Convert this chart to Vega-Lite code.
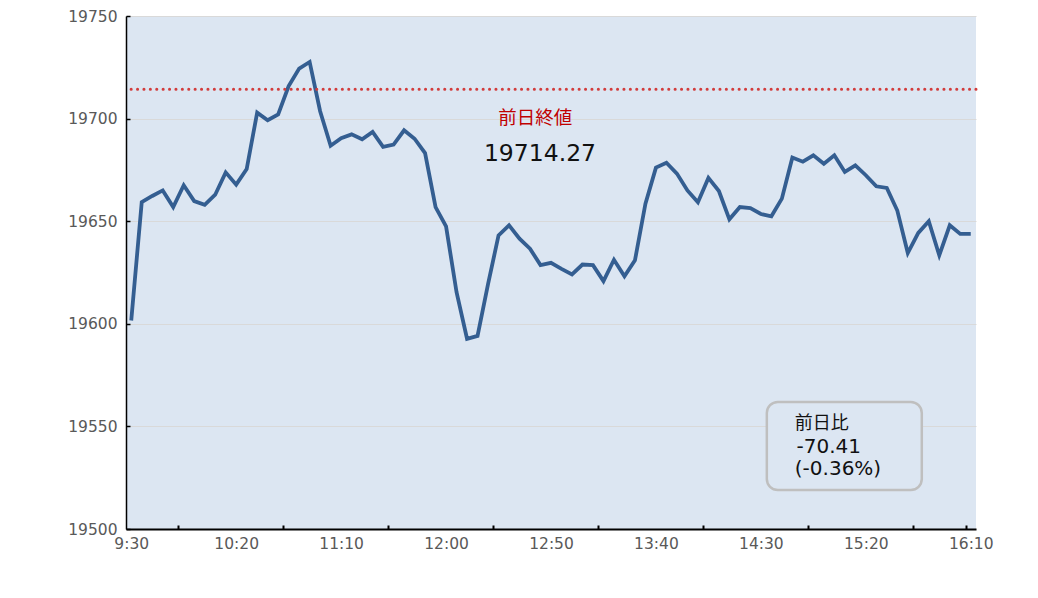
{
  "$schema": "https://vega.github.io/schema/vega-lite/v6.json",
  "autosize": "none",
  "padding": {"left": 126, "top": 16, "right": 62, "bottom": 69},
  "width": 850,
  "height": 513,
  "background": "white",
  "config": {
    "view": {"fill": "#dce6f2", "stroke": null},
    "axis": {"labelFont": "DejaVu Sans", "labelFontSize": 15.5, "labelColor": "#595959", "title": null}
  },
  "resolve": {"axis": {"x": "independent"}},
  "datasets": {
    "series": [
      {"time": "2024-01-01T09:30", "value": 19601.6},
      {"time": "2024-01-01T09:35", "value": 19659.3},
      {"time": "2024-01-01T09:40", "value": 19662.3},
      {"time": "2024-01-01T09:45", "value": 19665.0},
      {"time": "2024-01-01T09:50", "value": 19656.9},
      {"time": "2024-01-01T09:55", "value": 19667.5},
      {"time": "2024-01-01T10:00", "value": 19659.8},
      {"time": "2024-01-01T10:05", "value": 19658.0},
      {"time": "2024-01-01T10:10", "value": 19662.9},
      {"time": "2024-01-01T10:15", "value": 19673.8},
      {"time": "2024-01-01T10:20", "value": 19667.8},
      {"time": "2024-01-01T10:25", "value": 19675.4},
      {"time": "2024-01-01T10:30", "value": 19702.9},
      {"time": "2024-01-01T10:35", "value": 19699.2},
      {"time": "2024-01-01T10:40", "value": 19702.0},
      {"time": "2024-01-01T10:45", "value": 19715.9},
      {"time": "2024-01-01T10:50", "value": 19724.4},
      {"time": "2024-01-01T10:55", "value": 19727.6},
      {"time": "2024-01-01T11:00", "value": 19703.6},
      {"time": "2024-01-01T11:05", "value": 19686.8},
      {"time": "2024-01-01T11:10", "value": 19690.5},
      {"time": "2024-01-01T11:15", "value": 19692.3},
      {"time": "2024-01-01T11:20", "value": 19689.9},
      {"time": "2024-01-01T11:25", "value": 19693.5},
      {"time": "2024-01-01T11:30", "value": 19686.2},
      {"time": "2024-01-01T11:35", "value": 19687.3},
      {"time": "2024-01-01T11:40", "value": 19694.3},
      {"time": "2024-01-01T11:45", "value": 19690.2},
      {"time": "2024-01-01T11:50", "value": 19683.2},
      {"time": "2024-01-01T11:55", "value": 19656.9},
      {"time": "2024-01-01T12:00", "value": 19647.5},
      {"time": "2024-01-01T12:05", "value": 19615.4},
      {"time": "2024-01-01T12:10", "value": 19592.7},
      {"time": "2024-01-01T12:15", "value": 19594.1},
      {"time": "2024-01-01T12:20", "value": 19619.3},
      {"time": "2024-01-01T12:25", "value": 19643.1},
      {"time": "2024-01-01T12:30", "value": 19648.0},
      {"time": "2024-01-01T12:35", "value": 19641.5},
      {"time": "2024-01-01T12:40", "value": 19636.6},
      {"time": "2024-01-01T12:45", "value": 19628.6},
      {"time": "2024-01-01T12:50", "value": 19629.7},
      {"time": "2024-01-01T12:55", "value": 19626.8},
      {"time": "2024-01-01T13:00", "value": 19624.1},
      {"time": "2024-01-01T13:05", "value": 19628.9},
      {"time": "2024-01-01T13:10", "value": 19628.6},
      {"time": "2024-01-01T13:15", "value": 19620.8},
      {"time": "2024-01-01T13:20", "value": 19631.2},
      {"time": "2024-01-01T13:25", "value": 19623.2},
      {"time": "2024-01-01T13:30", "value": 19630.9},
      {"time": "2024-01-01T13:35", "value": 19658.5},
      {"time": "2024-01-01T13:40", "value": 19676.1},
      {"time": "2024-01-01T13:45", "value": 19678.5},
      {"time": "2024-01-01T13:50", "value": 19673.2},
      {"time": "2024-01-01T13:55", "value": 19665.0},
      {"time": "2024-01-01T14:00", "value": 19659.2},
      {"time": "2024-01-01T14:05", "value": 19671.1},
      {"time": "2024-01-01T14:10", "value": 19664.7},
      {"time": "2024-01-01T14:15", "value": 19650.9},
      {"time": "2024-01-01T14:20", "value": 19656.9},
      {"time": "2024-01-01T14:25", "value": 19656.4},
      {"time": "2024-01-01T14:30", "value": 19653.5},
      {"time": "2024-01-01T14:35", "value": 19652.4},
      {"time": "2024-01-01T14:40", "value": 19661.0},
      {"time": "2024-01-01T14:45", "value": 19681.0},
      {"time": "2024-01-01T14:50", "value": 19679.0},
      {"time": "2024-01-01T14:55", "value": 19682.1},
      {"time": "2024-01-01T15:00", "value": 19678.0},
      {"time": "2024-01-01T15:05", "value": 19682.1},
      {"time": "2024-01-01T15:10", "value": 19674.0},
      {"time": "2024-01-01T15:15", "value": 19677.2},
      {"time": "2024-01-01T15:20", "value": 19672.4},
      {"time": "2024-01-01T15:25", "value": 19667.0},
      {"time": "2024-01-01T15:30", "value": 19666.2},
      {"time": "2024-01-01T15:35", "value": 19655.2},
      {"time": "2024-01-01T15:40", "value": 19634.5},
      {"time": "2024-01-01T15:45", "value": 19644.3},
      {"time": "2024-01-01T15:50", "value": 19650.0},
      {"time": "2024-01-01T15:55", "value": 19633.4},
      {"time": "2024-01-01T16:00", "value": 19648.0},
      {"time": "2024-01-01T16:05", "value": 19643.8},
      {"time": "2024-01-01T16:10", "value": 19643.86}
    ],
    "prevclose": [{"value": 19714.27}],
    "box": [{"start": "2024-01-01T14:32:50", "end": "2024-01-01T15:46:40", "top": 19561.9, "bottom": 19519.0}],
    "prevlabel": [{"time": "2024-01-01T12:42:30", "value": 19700.4, "label": "前日終値"}],
    "prevvalue": [{"time": "2024-01-01T12:44:45", "value": 19682.9, "label": "19714.27"}],
    "changetitle": [{"time": "2024-01-01T14:46:10", "value": 19551.2, "label": "前日比"}],
    "changevalues": [
      {"time": "2024-01-01T14:47:00", "value": 19540.0, "label": "-70.41"},
      {"time": "2024-01-01T14:46:10", "value": 19529.2, "label": "(-0.36%)"}
    ]
  },
  "layer": [
    {
      "data": {"name": "box"},
      "mark": {"type": "rect", "fill": "#dce6f2", "stroke": "#bfbfbf", "strokeWidth": 2.5, "cornerRadius": 11},
      "encoding": {
        "x": {
          "field": "start", "type": "temporal",
          "scale": {"domain": [
            {"year": 2024, "month": 1, "date": 1, "hours": 9, "minutes": 27, "seconds": 30},
            {"year": 2024, "month": 1, "date": 1, "hours": 16, "minutes": 12, "seconds": 30}
          ]},
          "axis": {
            "orient": "bottom",
            "values": [
              {"year": 2024, "month": 1, "date": 1, "hours": 9, "minutes": 52, "seconds": 30},
              {"year": 2024, "month": 1, "date": 1, "hours": 10, "minutes": 42, "seconds": 30},
              {"year": 2024, "month": 1, "date": 1, "hours": 11, "minutes": 32, "seconds": 30},
              {"year": 2024, "month": 1, "date": 1, "hours": 12, "minutes": 22, "seconds": 30},
              {"year": 2024, "month": 1, "date": 1, "hours": 13, "minutes": 12, "seconds": 30},
              {"year": 2024, "month": 1, "date": 1, "hours": 14, "minutes": 2, "seconds": 30},
              {"year": 2024, "month": 1, "date": 1, "hours": 14, "minutes": 52, "seconds": 30},
              {"year": 2024, "month": 1, "date": 1, "hours": 15, "minutes": 42, "seconds": 30},
              {"year": 2024, "month": 1, "date": 1, "hours": 16, "minutes": 7, "seconds": 30}
            ],
            "labels": false, "grid": false, "domain": false,
            "ticks": true, "tickSize": -4, "tickColor": "black", "tickWidth": 2
          }
        },
        "x2": {"field": "end"},
        "y": {"field": "top", "type": "quantitative"},
        "y2": {"field": "bottom"}
      }
    },
    {
      "data": {"name": "series"},
      "mark": {"type": "line", "color": "#345e91", "strokeWidth": 3.8, "strokeJoin": "miter"},
      "encoding": {
        "x": {
          "field": "time", "type": "temporal",
          "axis": {
            "orient": "bottom",
            "values": [
              {"year": 2024, "month": 1, "date": 1, "hours": 9, "minutes": 30},
              {"year": 2024, "month": 1, "date": 1, "hours": 10, "minutes": 20},
              {"year": 2024, "month": 1, "date": 1, "hours": 11, "minutes": 10},
              {"year": 2024, "month": 1, "date": 1, "hours": 12, "minutes": 0},
              {"year": 2024, "month": 1, "date": 1, "hours": 12, "minutes": 50},
              {"year": 2024, "month": 1, "date": 1, "hours": 13, "minutes": 40},
              {"year": 2024, "month": 1, "date": 1, "hours": 14, "minutes": 30},
              {"year": 2024, "month": 1, "date": 1, "hours": 15, "minutes": 20},
              {"year": 2024, "month": 1, "date": 1, "hours": 16, "minutes": 10}
            ],
            "format": "%-H:%M",
            "ticks": false, "grid": false,
            "domainColor": "black", "domainWidth": 2,
            "labelPadding": 7, "labelFlush": false
          }
        },
        "y": {
          "field": "value", "type": "quantitative",
          "scale": {"domain": [19500, 19750], "nice": false, "zero": false},
          "axis": {
            "values": [19500, 19550, 19600, 19650, 19700, 19750],
            "format": "d",
            "ticks": true, "tickSize": -4, "tickColor": "black", "tickWidth": 1.5,
            "labelPadding": 13,
            "domainColor": "black", "domainWidth": 1.5,
            "grid": true, "gridColor": "#d9d9d9", "gridWidth": 1
          }
        }
      }
    },
    {
      "data": {"name": "prevclose"},
      "mark": {"type": "rule", "color": "#d23c3c", "strokeWidth": 3, "strokeDash": [0.1, 6.3], "strokeCap": "round"},
      "encoding": {"y": {"field": "value", "type": "quantitative"}}
    },
    {
      "data": {"name": "prevlabel"},
      "mark": {"type": "text", "font": "Noto Sans CJK JP", "fontSize": 18.5, "color": "#c00000", "align": "center", "baseline": "middle"},
      "encoding": {
        "x": {"field": "time", "type": "temporal", "axis": null},
        "y": {"field": "value", "type": "quantitative"},
        "text": {"field": "label"}
      }
    },
    {
      "data": {"name": "prevvalue"},
      "mark": {"type": "text", "font": "DejaVu Sans", "fontSize": 23.5, "color": "#111111", "align": "center", "baseline": "middle"},
      "encoding": {
        "x": {"field": "time", "type": "temporal", "axis": null},
        "y": {"field": "value", "type": "quantitative"},
        "text": {"field": "label"}
      }
    },
    {
      "data": {"name": "changetitle"},
      "mark": {"type": "text", "font": "Noto Sans CJK JP", "fontSize": 18, "color": "#111111", "align": "left", "baseline": "middle"},
      "encoding": {
        "x": {"field": "time", "type": "temporal", "axis": null},
        "y": {"field": "value", "type": "quantitative"},
        "text": {"field": "label"}
      }
    },
    {
      "data": {"name": "changevalues"},
      "mark": {"type": "text", "font": "DejaVu Sans", "fontSize": 20, "color": "#111111", "align": "left", "baseline": "middle"},
      "encoding": {
        "x": {"field": "time", "type": "temporal", "axis": null},
        "y": {"field": "value", "type": "quantitative"},
        "text": {"field": "label"}
      }
    }
  ]
}
